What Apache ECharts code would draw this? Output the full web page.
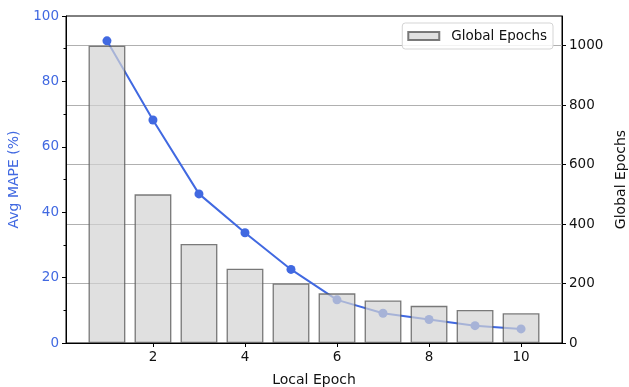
<!DOCTYPE html>
<html>
<head>
<meta charset="utf-8">
<script src="https://cdn.jsdelivr.net/npm/echarts@6/dist/echarts.min.js"></script>
<style>html,body{margin:0;padding:0;background:#fff}#c{width:629px;height:387px}</style>
</head>
<body>
<div id="c"></div>
<script>
const localEpochs = [1, 2, 3, 4, 5, 6, 7, 8, 9, 10];
const globalEpochs = [1000, 500, 333, 250, 200, 167, 143, 125, 111, 100];
const avgMape = [92.4, 68.2, 45.6, 33.7, 22.5, 13.2, 9.1, 7.2, 5.3, 4.3];
const xTicks = [2, 4, 6, 8, 10];
const rightTicks = [0, 200, 400, 600, 800, 1000];

const W = 629, H = 387;
const G = {left: 66, right: 67, top: 16, bottom: 44};
const xMin = 0.11, xMax = 10.89;
const pxPerUnit = (W - G.left - G.right) / (xMax - xMin);
const font = 'DejaVu Sans';
const blue = '#4169E1';
const ink = '#111';

const chart = echarts.init(document.getElementById('c'), null, {renderer: 'canvas'});
chart.setOption({
  animation: false,
  backgroundColor: '#fff',
  grid: Object.assign({show: true, borderColor: '#000', borderWidth: 1, backgroundColor: 'transparent',
    containLabel: false, outerBoundsMode: 'none'}, G),
  legend: {
    right: 76, top: 23,
    padding: [6, 6, 6, 5],
    itemWidth: 31, itemHeight: 8, itemGap: 10,
    backgroundColor: 'rgba(255,255,255,0.85)',
    borderColor: '#d5d5d5', borderWidth: 1, borderRadius: 3,
    textStyle: {fontFamily: font, fontSize: 13.5, color: ink, padding: [0, 0, 0, 7]},
    data: [{name: 'Global Epochs', icon: 'rect'}]
  },
  xAxis: {
    type: 'value', min: xMin, max: xMax,
    name: 'Local Epoch', nameLocation: 'middle', nameGap: 30,
    nameTextStyle: {fontFamily: font, fontSize: 14, color: ink, verticalAlign: 'top'},
    axisLine: {show: true, lineStyle: {color: '#000', width: 1}},
    axisTick: {show: true, inside: false, length: 4, customValues: xTicks, lineStyle: {color: '#000'}},
    axisLabel: {customValues: xTicks, fontFamily: font, fontSize: 13.5, color: ink, margin: 7},
    splitLine: {show: false}
  },
  yAxis: [{
    type: 'value', position: 'left', min: 0, max: 100, interval: 20,
    name: 'Avg MAPE (%)', nameLocation: 'middle', nameGap: 45, nameRotate: 90,
    nameTextStyle: {fontFamily: font, fontSize: 14, color: blue},
    axisLine: {show: true, lineStyle: {color: '#000'}},
    axisTick: {show: true, length: 4, lineStyle: {color: '#000'}},
    minorTick: {show: true, splitNumber: 2, length: 2.5, lineStyle: {color: '#000'}},
    axisLabel: {fontFamily: font, fontSize: 13.5, color: blue, margin: 7},
    splitLine: {show: false}
  }, {
    type: 'value', position: 'right', min: 0, max: 1100,
    name: 'Global Epochs', nameLocation: 'middle', nameGap: 52, nameRotate: 90,
    nameTextStyle: {fontFamily: font, fontSize: 14, color: ink},
    axisLine: {show: true, lineStyle: {color: '#000'}},
    axisTick: {show: true, length: 4, customValues: rightTicks, lineStyle: {color: '#000'}},
    axisLabel: {customValues: rightTicks, formatter: v => String(v), fontFamily: font, fontSize: 13.5, color: ink, margin: 7},
    splitLine: {show: true, lineStyle: {color: '#b0b0b0', width: 1.2}}
  }],
  series: [{
    name: 'Avg MAPE', type: 'line', yAxisIndex: 0, z: 2,
    data: localEpochs.map((x, i) => [x, avgMape[i]]),
    symbol: 'circle', symbolSize: 9, showSymbol: true,
    lineStyle: {color: blue, width: 2},
    itemStyle: {color: blue}
  }, {
    name: 'Global Epochs', type: 'bar', yAxisIndex: 1, z: 3,
    data: localEpochs.map((x, i) => [x, globalEpochs[i]]),
    barWidth: 0.8 * pxPerUnit,
    itemStyle: {color: 'rgba(211,211,211,0.7)', borderColor: 'rgba(90,90,90,0.8)', borderWidth: 1.3}
  }]
});
</script>
</body>
</html>
